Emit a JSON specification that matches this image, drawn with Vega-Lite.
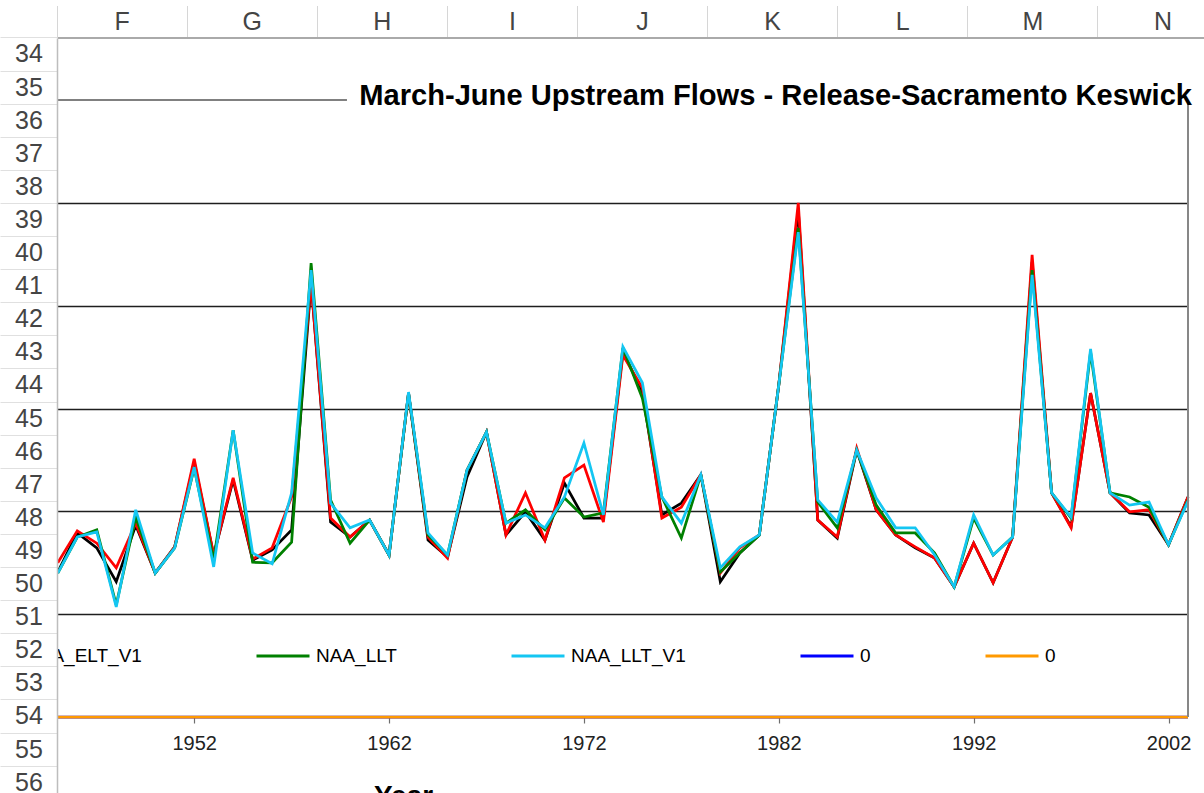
{
  "$schema": "https://vega.github.io/schema/vega-lite/v6.json",
  "width": 1131,
  "height": 617,
  "autosize": {"type": "none"},
  "padding": {"left": 57, "top": 100, "right": 16, "bottom": 76},
  "background": "white",
  "config": {"view": {"stroke": null}, "font": "Liberation Sans"},
  "title": {
    "text": "March-June Upstream Flows - Release-Sacramento Keswick",
    "anchor": "end",
    "frame": "group",
    "orient": "top",
    "baseline": "alphabetic",
    "offset": -129,
    "dx": 4,
    "font": "Liberation Sans",
    "fontSize": 29.1,
    "fontWeight": "bold",
    "color": "#000000"
  },
  "datasets": {
    "flows": [
      {"year": 1945, "NAA_ELT": 2820, "NAA_ELT_V1": 3000, "NAA_LLT": 2800, "NAA_LLT_V1": 2800, "zero_1": 0, "zero_2": 0},
      {"year": 1946, "NAA_ELT": 3580, "NAA_ELT_V1": 3620, "NAA_LLT": 3500, "NAA_LLT_V1": 3500, "zero_1": 0, "zero_2": 0},
      {"year": 1947, "NAA_ELT": 3290, "NAA_ELT_V1": 3380, "NAA_LLT": 3640, "NAA_LLT_V1": 3600, "zero_1": 0, "zero_2": 0},
      {"year": 1948, "NAA_ELT": 2630, "NAA_ELT_V1": 2900, "NAA_LLT": 2180, "NAA_LLT_V1": 2140, "zero_1": 0, "zero_2": 0},
      {"year": 1949, "NAA_ELT": 3730, "NAA_ELT_V1": 3770, "NAA_LLT": 3890, "NAA_LLT_V1": 4030, "zero_1": 0, "zero_2": 0},
      {"year": 1950, "NAA_ELT": 2800, "NAA_ELT_V1": 2800, "NAA_LLT": 2800, "NAA_LLT_V1": 2800, "zero_1": 0, "zero_2": 0},
      {"year": 1951, "NAA_ELT": 3310, "NAA_ELT_V1": 3310, "NAA_LLT": 3290, "NAA_LLT_V1": 3290, "zero_1": 0, "zero_2": 0},
      {"year": 1952, "NAA_ELT": 4960, "NAA_ELT_V1": 5020, "NAA_LLT": 4840, "NAA_LLT_V1": 4860, "zero_1": 0, "zero_2": 0},
      {"year": 1953, "NAA_ELT": 3150, "NAA_ELT_V1": 3150, "NAA_LLT": 3050, "NAA_LLT_V1": 2920, "zero_1": 0, "zero_2": 0},
      {"year": 1954, "NAA_ELT": 4610, "NAA_ELT_V1": 4650, "NAA_LLT": 5580, "NAA_LLT_V1": 5580, "zero_1": 0, "zero_2": 0},
      {"year": 1955, "NAA_ELT": 3050, "NAA_ELT_V1": 3070, "NAA_LLT": 3010, "NAA_LLT_V1": 3190, "zero_1": 0, "zero_2": 0},
      {"year": 1956, "NAA_ELT": 3250, "NAA_ELT_V1": 3290, "NAA_LLT": 3000, "NAA_LLT_V1": 2980, "zero_1": 0, "zero_2": 0},
      {"year": 1957, "NAA_ELT": 3640, "NAA_ELT_V1": 4280, "NAA_LLT": 3400, "NAA_LLT_V1": 4360, "zero_1": 0, "zero_2": 0},
      {"year": 1958, "NAA_ELT": 8440, "NAA_ELT_V1": 8440, "NAA_LLT": 8830, "NAA_LLT_V1": 8690, "zero_1": 0, "zero_2": 0},
      {"year": 1959, "NAA_ELT": 3790, "NAA_ELT_V1": 3870, "NAA_LLT": 4220, "NAA_LLT_V1": 4160, "zero_1": 0, "zero_2": 0},
      {"year": 1960, "NAA_ELT": 3500, "NAA_ELT_V1": 3500, "NAA_LLT": 3380, "NAA_LLT_V1": 3680, "zero_1": 0, "zero_2": 0},
      {"year": 1961, "NAA_ELT": 3830, "NAA_ELT_V1": 3830, "NAA_LLT": 3830, "NAA_LLT_V1": 3830, "zero_1": 0, "zero_2": 0},
      {"year": 1962, "NAA_ELT": 3150, "NAA_ELT_V1": 3150, "NAA_LLT": 3150, "NAA_LLT_V1": 3150, "zero_1": 0, "zero_2": 0},
      {"year": 1963, "NAA_ELT": 6300, "NAA_ELT_V1": 6300, "NAA_LLT": 6300, "NAA_LLT_V1": 6320, "zero_1": 0, "zero_2": 0},
      {"year": 1964, "NAA_ELT": 3440, "NAA_ELT_V1": 3500, "NAA_LLT": 3540, "NAA_LLT_V1": 3580, "zero_1": 0, "zero_2": 0},
      {"year": 1965, "NAA_ELT": 3110, "NAA_ELT_V1": 3090, "NAA_LLT": 3150, "NAA_LLT_V1": 3150, "zero_1": 0, "zero_2": 0},
      {"year": 1966, "NAA_ELT": 4670, "NAA_ELT_V1": 4800, "NAA_LLT": 4800, "NAA_LLT_V1": 4800, "zero_1": 0, "zero_2": 0},
      {"year": 1967, "NAA_ELT": 5540, "NAA_ELT_V1": 5540, "NAA_LLT": 5540, "NAA_LLT_V1": 5540, "zero_1": 0, "zero_2": 0},
      {"year": 1968, "NAA_ELT": 3540, "NAA_ELT_V1": 3540, "NAA_LLT": 3770, "NAA_LLT_V1": 3770, "zero_1": 0, "zero_2": 0},
      {"year": 1969, "NAA_ELT": 3990, "NAA_ELT_V1": 4360, "NAA_LLT": 4030, "NAA_LLT_V1": 3930, "zero_1": 0, "zero_2": 0},
      {"year": 1970, "NAA_ELT": 3440, "NAA_ELT_V1": 3440, "NAA_LLT": 3640, "NAA_LLT_V1": 3680, "zero_1": 0, "zero_2": 0},
      {"year": 1971, "NAA_ELT": 4550, "NAA_ELT_V1": 4650, "NAA_LLT": 4260, "NAA_LLT_V1": 4280, "zero_1": 0, "zero_2": 0},
      {"year": 1972, "NAA_ELT": 3870, "NAA_ELT_V1": 4900, "NAA_LLT": 3890, "NAA_LLT_V1": 5330, "zero_1": 0, "zero_2": 0},
      {"year": 1973, "NAA_ELT": 3870, "NAA_ELT_V1": 3790, "NAA_LLT": 3970, "NAA_LLT_V1": 3930, "zero_1": 0, "zero_2": 0},
      {"year": 1974, "NAA_ELT": 7100, "NAA_ELT_V1": 7040, "NAA_LLT": 7180, "NAA_LLT_V1": 7200, "zero_1": 0, "zero_2": 0},
      {"year": 1975, "NAA_ELT": 6320, "NAA_ELT_V1": 6400, "NAA_LLT": 6200, "NAA_LLT_V1": 6500, "zero_1": 0, "zero_2": 0},
      {"year": 1976, "NAA_ELT": 3930, "NAA_ELT_V1": 3870, "NAA_LLT": 4280, "NAA_LLT_V1": 4280, "zero_1": 0, "zero_2": 0},
      {"year": 1977, "NAA_ELT": 4160, "NAA_ELT_V1": 4080, "NAA_LLT": 3480, "NAA_LLT_V1": 3770, "zero_1": 0, "zero_2": 0},
      {"year": 1978, "NAA_ELT": 4710, "NAA_ELT_V1": 4710, "NAA_LLT": 4710, "NAA_LLT_V1": 4710, "zero_1": 0, "zero_2": 0},
      {"year": 1979, "NAA_ELT": 2630, "NAA_ELT_V1": 2800, "NAA_LLT": 2820, "NAA_LLT_V1": 2900, "zero_1": 0, "zero_2": 0},
      {"year": 1980, "NAA_ELT": 3190, "NAA_ELT_V1": 3290, "NAA_LLT": 3190, "NAA_LLT_V1": 3310, "zero_1": 0, "zero_2": 0},
      {"year": 1981, "NAA_ELT": 3540, "NAA_ELT_V1": 3540, "NAA_LLT": 3540, "NAA_LLT_V1": 3540, "zero_1": 0, "zero_2": 0},
      {"year": 1982, "NAA_ELT": 6460, "NAA_ELT_V1": 6460, "NAA_LLT": 6460, "NAA_LLT_V1": 6460, "zero_1": 0, "zero_2": 0},
      {"year": 1983, "NAA_ELT": 9860, "NAA_ELT_V1": 10000, "NAA_LLT": 9510, "NAA_LLT_V1": 9430, "zero_1": 0, "zero_2": 0},
      {"year": 1984, "NAA_ELT": 3830, "NAA_ELT_V1": 3830, "NAA_LLT": 4180, "NAA_LLT_V1": 4220, "zero_1": 0, "zero_2": 0},
      {"year": 1985, "NAA_ELT": 3480, "NAA_ELT_V1": 3500, "NAA_LLT": 3680, "NAA_LLT_V1": 3790, "zero_1": 0, "zero_2": 0},
      {"year": 1986, "NAA_ELT": 5190, "NAA_ELT_V1": 5230, "NAA_LLT": 5190, "NAA_LLT_V1": 5190, "zero_1": 0, "zero_2": 0},
      {"year": 1987, "NAA_ELT": 4030, "NAA_ELT_V1": 4030, "NAA_LLT": 4120, "NAA_LLT_V1": 4260, "zero_1": 0, "zero_2": 0},
      {"year": 1988, "NAA_ELT": 3540, "NAA_ELT_V1": 3540, "NAA_LLT": 3580, "NAA_LLT_V1": 3680, "zero_1": 0, "zero_2": 0},
      {"year": 1989, "NAA_ELT": 3290, "NAA_ELT_V1": 3310, "NAA_LLT": 3580, "NAA_LLT_V1": 3680, "zero_1": 0, "zero_2": 0},
      {"year": 1990, "NAA_ELT": 3090, "NAA_ELT_V1": 3090, "NAA_LLT": 3190, "NAA_LLT_V1": 3150, "zero_1": 0, "zero_2": 0},
      {"year": 1991, "NAA_ELT": 2530, "NAA_ELT_V1": 2530, "NAA_LLT": 2530, "NAA_LLT_V1": 2530, "zero_1": 0, "zero_2": 0},
      {"year": 1992, "NAA_ELT": 3380, "NAA_ELT_V1": 3380, "NAA_LLT": 3870, "NAA_LLT_V1": 3930, "zero_1": 0, "zero_2": 0},
      {"year": 1993, "NAA_ELT": 2610, "NAA_ELT_V1": 2610, "NAA_LLT": 3150, "NAA_LLT_V1": 3150, "zero_1": 0, "zero_2": 0},
      {"year": 1994, "NAA_ELT": 3500, "NAA_ELT_V1": 3500, "NAA_LLT": 3500, "NAA_LLT_V1": 3500, "zero_1": 0, "zero_2": 0},
      {"year": 1995, "NAA_ELT": 8850, "NAA_ELT_V1": 8990, "NAA_LLT": 8690, "NAA_LLT_V1": 8600, "zero_1": 0, "zero_2": 0},
      {"year": 1996, "NAA_ELT": 4360, "NAA_ELT_V1": 4360, "NAA_LLT": 4360, "NAA_LLT_V1": 4360, "zero_1": 0, "zero_2": 0},
      {"year": 1997, "NAA_ELT": 3700, "NAA_ELT_V1": 3680, "NAA_LLT": 3870, "NAA_LLT_V1": 3890, "zero_1": 0, "zero_2": 0},
      {"year": 1998, "NAA_ELT": 6300, "NAA_ELT_V1": 6300, "NAA_LLT": 7100, "NAA_LLT_V1": 7160, "zero_1": 0, "zero_2": 0},
      {"year": 1999, "NAA_ELT": 4360, "NAA_ELT_V1": 4360, "NAA_LLT": 4360, "NAA_LLT_V1": 4360, "zero_1": 0, "zero_2": 0},
      {"year": 2000, "NAA_ELT": 3970, "NAA_ELT_V1": 3990, "NAA_LLT": 4280, "NAA_LLT_V1": 4120, "zero_1": 0, "zero_2": 0},
      {"year": 2001, "NAA_ELT": 3930, "NAA_ELT_V1": 4030, "NAA_LLT": 4080, "NAA_LLT_V1": 4180, "zero_1": 0, "zero_2": 0},
      {"year": 2002, "NAA_ELT": 3350, "NAA_ELT_V1": 3350, "NAA_LLT": 3350, "NAA_LLT_V1": 3350, "zero_1": 0, "zero_2": 0},
      {"year": 2003, "NAA_ELT": 4280, "NAA_ELT_V1": 4280, "NAA_LLT": 4220, "NAA_LLT_V1": 4200, "zero_1": 0, "zero_2": 0}
    ],
    "rows": [
      {"row": "34"}, {"row": "35"}, {"row": "36"}, {"row": "37"}, {"row": "38"}, {"row": "39"},
      {"row": "40"}, {"row": "41"}, {"row": "42"}, {"row": "43"}, {"row": "44"}, {"row": "45"},
      {"row": "46"}, {"row": "47"}, {"row": "48"}, {"row": "49"}, {"row": "50"}, {"row": "51"},
      {"row": "52"}, {"row": "53"}, {"row": "54"}, {"row": "55"}, {"row": "56"}
    ],
    "cols": [
      {"col": "F"}, {"col": "G"}, {"col": "H"}, {"col": "I"}, {"col": "J"},
      {"col": "K"}, {"col": "L"}, {"col": "M"}, {"col": "N"}
    ]
  },
  "layer": [
    {
      "layer": [
        {
          "data": {"name": "flows"},
          "transform": [
            {"fold": ["NAA_ELT", "NAA_ELT_V1", "NAA_LLT", "NAA_LLT_V1", "zero_1", "zero_2"], "as": ["series", "value"]}
          ],
          "mark": {"type": "line", "strokeWidth": 2.75},
          "encoding": {
            "x": {
              "field": "year",
              "type": "quantitative",
              "scale": {"domain": [1944.96, 2003], "nice": false, "zero": false},
              "axis": {
                "orient": "bottom",
                "values": [1952, 1962, 1972, 1982, 1992, 2002],
                "format": "d",
                "grid": false,
                "domain": false,
                "ticks": true,
                "tickSize": 6,
                "tickColor": "#6e6e6e",
                "tickWidth": 1.2,
                "labelFont": "Liberation Sans",
                "labelFontSize": 20,
                "labelColor": "#222222",
                "labelPadding": 10,
                "title": "Year",
                "titleFont": "Liberation Sans",
                "titleFontSize": 28,
                "titleFontWeight": "bold",
                "titleColor": "#000000",
                "titleX": 346,
                "titleY": 65,
                "titleBaseline": "top",
                "titleAlign": "center"
              }
            },
            "y": {
              "field": "value",
              "type": "quantitative",
              "scale": {"domain": [0, 12000], "nice": false},
              "axis": {
                "orient": "left",
                "values": [2000, 4000, 6000, 8000, 10000],
                "grid": true,
                "gridColor": "#1e1e1e",
                "gridWidth": 1.3,
                "labels": false,
                "ticks": false,
                "domain": false,
                "title": null
              }
            },
            "color": {
              "field": "series",
              "type": "nominal",
              "scale": {
                "domain": ["NAA_ELT", "NAA_ELT_V1", "NAA_LLT", "NAA_LLT_V1", "zero_1", "zero_2"],
                "range": ["#000000", "#ff0000", "#008000", "#14c6f2", "#0000ff", "#ff9900"]
              },
              "legend": {
                "orient": "none",
                "legendX": -351,
                "legendY": 528,
                "direction": "horizontal",
                "columns": 6,
                "columnPadding": 108,
                "padding": 0,
                "title": null,
                "symbolType": "stroke",
                "symbolSize": 2809,
                "symbolStrokeWidth": 3,
                "labelFont": "Liberation Sans",
                "labelFontSize": 19,
                "labelColor": "#000000",
                "labelOffset": 5,
                "labelLimit": 400,
                "labelExpr": "datum.label == 'zero_1' || datum.label == 'zero_2' ? '0' : datum.label"
              }
            }
          }
        },
        {
          "data": {"values": [{"edge": "top"}]},
          "mark": {"type": "rule", "color": "#808080", "strokeWidth": 2},
          "encoding": {
            "x": {"datum": 1944.96},
            "x2": {"datum": 1959.84},
            "y": {"datum": 12000}
          }
        },
        {
          "data": {"values": [{"edge": "right"}]},
          "mark": {"type": "rule", "color": "#878787", "strokeWidth": 2},
          "encoding": {
            "x": {"datum": 2003},
            "y": {"datum": 0},
            "y2": {"datum": 11950}
          }
        }
      ]
    },
    {
      "data": {"name": "cols"},
      "mark": {"type": "point", "opacity": 0},
      "encoding": {
        "x": {
          "field": "col",
          "type": "nominal",
          "sort": null,
          "scale": {"type": "band", "domain": ["F", "G", "H", "I", "J", "K", "L", "M", "N"], "range": [0, 1171], "paddingInner": 0, "paddingOuter": 0},
          "axis": {
            "orient": "top",
            "offset": 62.5,
            "bandPosition": 0,
            "title": null,
            "domain": true,
            "domainColor": "#aaaaaa",
            "domainWidth": 2,
            "ticks": true,
            "tickSize": 32,
            "tickColor": "#d6d6d6",
            "tickWidth": 1,
            "labelAngle": 0,
            "labelAlign": "center",
            "labelBaseline": "middle",
            "labelPadding": -15.5,
            "labelFont": "Liberation Sans",
            "labelFontSize": 25,
            "labelColor": "#444444",
            "labelOverlap": false,
            "grid": false
          }
        }
      }
    },
    {
      "data": {"name": "rows"},
      "mark": {"type": "point", "opacity": 0},
      "encoding": {
        "y": {
          "field": "row",
          "type": "nominal",
          "sort": null,
          "scale": {"type": "band", "domain": ["34","35","36","37","38","39","40","41","42","43","44","45","46","47","48","49","50","51","52","53","54","55","56"], "range": [-62.1, 699.2], "paddingInner": 0, "paddingOuter": 0},
          "axis": {
            "orient": "left",
            "zindex": 1,
            "bandPosition": 0.5,
            "title": null,
            "domain": false,
            "labels": false,
            "grid": false,
            "ticks": true,
            "tickSize": 59,
            "tickWidth": 34,
            "tickColor": "#ffffff",
            "tickCap": "butt"
          }
        }
      }
    },
    {
      "data": {"name": "rows"},
      "mark": {"type": "point", "opacity": 0},
      "encoding": {
        "y": {
          "field": "row",
          "type": "nominal",
          "sort": null,
          "scale": {"type": "band", "domain": ["34","35","36","37","38","39","40","41","42","43","44","45","46","47","48","49","50","51","52","53","54","55","56"], "range": [-62.1, 699.2], "paddingInner": 0, "paddingOuter": 0},
          "axis": {
            "orient": "left",
            "zindex": 1,
            "bandPosition": 0,
            "title": null,
            "domain": true,
            "domainColor": "#bdbdbd",
            "domainWidth": 1.5,
            "grid": false,
            "ticks": true,
            "tickSize": 57,
            "tickWidth": 1,
            "tickColor": "#e0e0e0",
            "labelAlign": "center",
            "labelBaseline": "middle",
            "labelPadding": -28.5,
            "labelFont": "Liberation Sans",
            "labelFontSize": 25,
            "labelColor": "#444444",
            "labelOverlap": false
          }
        }
      }
    }
  ],
  "resolve": {
    "scale": {"x": "independent", "y": "independent"},
    "axis": {"x": "independent", "y": "independent"}
  }
}
